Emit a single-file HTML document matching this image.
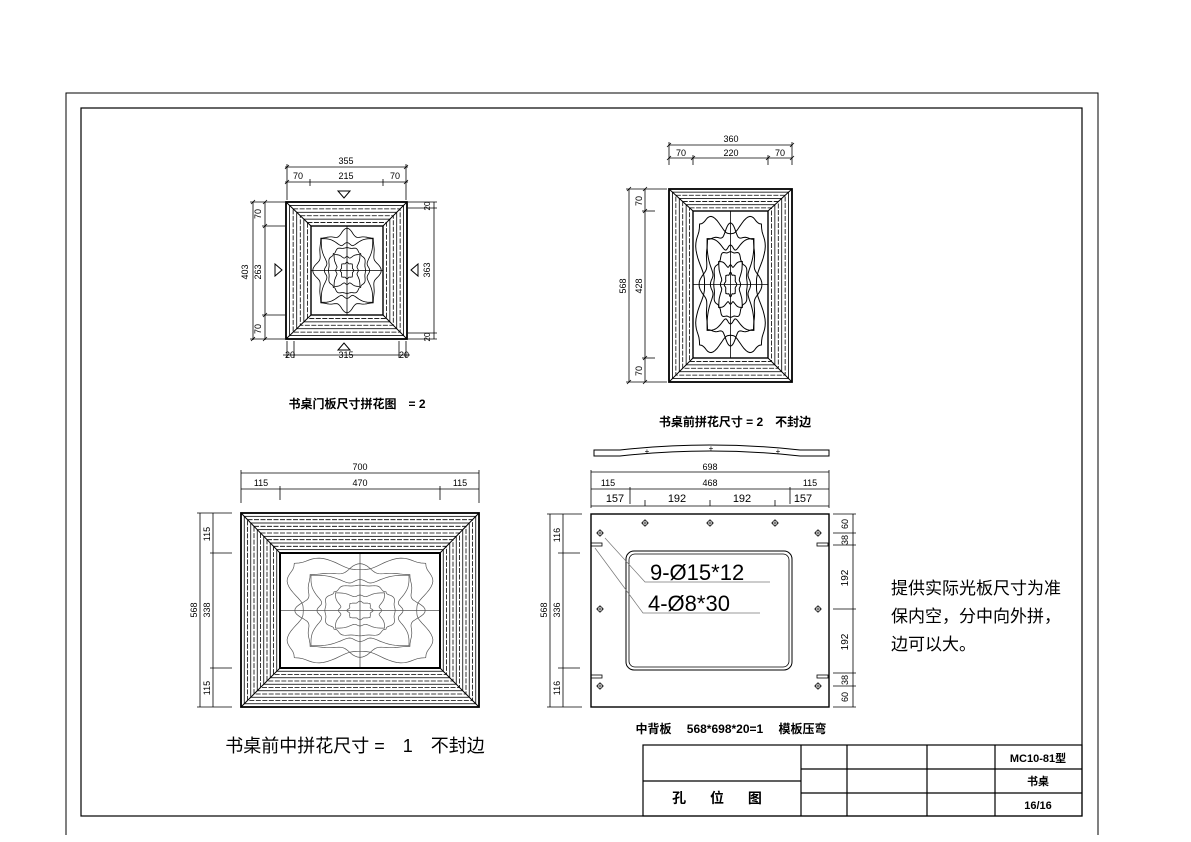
<!DOCTYPE html>
<html><head><meta charset="utf-8"><style>
html,body{margin:0;padding:0;background:#fff;}
svg{display:block;}
text{font-family:"Liberation Sans","Noto Sans CJK SC",sans-serif;fill:#000;}
.cj{font-family:"Liberation Sans","Noto Sans CJK SC",sans-serif;font-weight:bold;}
</style></head><body>
<svg id="s" width="1191" height="842" viewBox="0 0 1191 842" xmlns="http://www.w3.org/2000/svg" stroke="#000" fill="none" stroke-width="1">
<path d="M66,835 V93 H1098 V835" stroke-width="1"/>
<rect x="81" y="108" width="1001" height="708" stroke-width="1.2"/>
<g stroke-width="1.2">
<rect x="643" y="745" width="439" height="71"/>
<line x1="643" y1="781" x2="801" y2="781"/>
<line x1="801" y1="745" x2="801" y2="816"/>
<line x1="847" y1="745" x2="847" y2="816"/>
<line x1="927" y1="745" x2="927" y2="816"/>
<line x1="995" y1="745" x2="995" y2="816"/>
<line x1="801" y1="769" x2="1082" y2="769"/>
<line x1="801" y1="793" x2="1082" y2="793"/>
</g>
<g stroke="none">
<text x="722" y="803" font-size="14" text-anchor="middle" class="cj" letter-spacing="10">孔 位 图</text>
<text x="1038" y="762" font-size="11" text-anchor="middle" class="cj">MC10-81型</text>
<text x="1038" y="785" font-size="11" text-anchor="middle" class="cj">书桌</text>
<text x="1038" y="809" font-size="11" text-anchor="middle" class="cj">16/16</text>
<text x="357" y="408" font-size="12" text-anchor="middle" class="cj">书桌门板尺寸拼花图　= 2</text>
<text x="735" y="426" font-size="12" text-anchor="middle" class="cj">书桌前拼花尺寸 = 2　不封边</text>
<text x="355" y="752" font-size="18" text-anchor="middle">书桌前中拼花尺寸 =　1　不封边</text>
<text x="731" y="733" font-size="12" text-anchor="middle" class="cj">中背板　 568*698*20=1　 模板压弯</text>
<text x="891" y="594" font-size="17">提供实际光板尺寸为准</text>
<text x="891" y="622" font-size="17">保内空，分中向外拼，</text>
<text x="891" y="650" font-size="17">边可以大。</text>
</g>
<g id="g"></g>
</svg>
<script>
const g=document.getElementById('g');
function el(t,a,txt){const e=document.createElementNS('http://www.w3.org/2000/svg',t);for(const k in a)e.setAttribute(k,a[k]);if(txt!==undefined)e.textContent=txt;g.appendChild(e);return e;}
function L(x1,y1,x2,y2,w,c){el('line',{x1,y1,x2,y2,'stroke-width':w||0.8,stroke:c||'#000'});}
function T(x,y,s,sz,rot,anchor,col){const a={x,y,'font-size':sz||9,'text-anchor':anchor||'middle',stroke:'none'};if(col)a.fill=col;if(rot)a.transform=`rotate(-90 ${x} ${y})`;el('text',a,s);}
function frame(o,i,n,dash){
  el('rect',{x:o[0],y:o[1],width:o[2]-o[0],height:o[3]-o[1],'stroke-width':1.8});
  el('rect',{x:i[0],y:i[1],width:i[2]-i[0],height:i[3]-i[1],'stroke-width':1.4});
  for(let k=1;k<n;k++){const t=k/n;
    const r=[o[0]+(i[0]-o[0])*t,o[1]+(i[1]-o[1])*t,o[2]+(i[2]-o[2])*t,o[3]+(i[3]-o[3])*t];
    const a={x:r[0],y:r[1],width:r[2]-r[0],height:r[3]-r[1],'stroke-width':0.8};
    if(dash&&k%2==0)a['stroke-dasharray']='5,1.5';
    el('rect',a);}
  L(o[0],o[1],i[0],i[1],1);L(o[2],o[1],i[2],i[1],1);L(o[0],o[3],i[0],i[3],1);L(o[2],o[3],i[2],i[3],1);
}
function wavy(i,n,amp,col,w){
  const cx=(i[0]+i[2])/2,cy=(i[1]+i[3])/2,hw=(i[2]-i[0])/2,hh=(i[3]-i[1])/2;
  for(let k=1;k<=n;k++){const s=k/(n+1)*0.95;let d='';
    const sg=(k%2?1:-1);
    for(let j=0;j<=160;j++){const th=j/160*Math.PI*2;
      const c=Math.cos(th),sn=Math.sin(th);
      const m=Math.max(Math.abs(c),Math.abs(sn));
      let rx=c/m*hw*s,ry=sn/m*hh*s;
      const f=1+amp*0.35*sg*Math.cos(4*th)+amp*0.2*Math.cos(8*th+0)*(k%3?1:-1)+amp*0.12*Math.cos(12*th);
      rx*=f;ry*=f;
      rx=Math.max(-hw*0.98,Math.min(hw*0.98,rx));ry=Math.max(-hh*0.98,Math.min(hh*0.98,ry));
      d+=(j?'L':'M')+(cx+rx).toFixed(1)+','+(cy+ry).toFixed(1);}
    el('path',{d,'stroke-width':w||0.8,stroke:col||'#000'});}
  L(cx,i[1],cx,i[3],0.8,col);L(i[0],cy,i[2],cy,0.8,col);
}
function tick(x,y){L(x-2,y+2,x+2,y-2,0.8);}
function hdim(x1,x2,y){L(x1-2,y,x2+2,y,0.8);tick(x1,y);tick(x2,y);}
// Drawing 1
frame([286,202,407,339],[311,226,383,315],7,true);
wavy([311,226,383,315],5,0.3);
hdim(287,406,167);T(346,164,'355',9);
hdim(287,406,182);L(310,179,310,186);L(383,179,383,186);
T(298,179,'70',9);T(346,179,'215',9);T(395,179,'70',9);
L(287,164,287,200);L(406,164,406,200);
el('path',{d:'M338,191 L350,191 L344,198 Z'});
el('path',{d:'M338,350 L350,350 L344,343 Z'});
el('path',{d:'M275,264 L275,276 L282,270 Z'});
el('path',{d:'M418,264 L418,276 L411,270 Z'});
L(253,202,253,340);L(265,202,265,340);L(250,202,285,202);L(250,339,285,339);L(262,226,285,226);L(262,315,285,315);
tick(253,202);tick(253,339);tick(265,202);tick(265,226);tick(265,315);tick(265,339);
T(248,272,'403',9,1);T(261,272,'263',9,1);T(261,214,'70',9,1);T(261,329,'70',9,1);
L(434,202,434,339);L(408,202,437,202);L(408,339,437,339);L(408,208,437,208);L(408,333,437,333);
T(430,270,'363',9,1);T(430,206,'20',8,1);T(430,337,'20',8,1);
L(287,341,287,358);L(406,341,406,358);L(294,341,294,358);L(399,341,399,358);L(283,355,410,355);
T(290,358,'20',9);T(346,358,'315',9);T(404,358,'20',9);
// Drawing 2
frame([669,189,792,382],[693,211,768,358],7,true);
wavy([693,211,768,358],6,0.35,'#000',1);
L(669,145,792,145);L(669,158,792,158);L(669,142,669,165);L(792,142,792,165);L(693,155,693,165);L(768,155,768,165);
tick(669,145);tick(792,145);tick(669,158);tick(693,158);tick(768,158);tick(792,158);
T(731,142,'360',9);T(681,156,'70',9);T(731,156,'220',9);T(780,156,'70',9);
L(629,189,629,382);L(645,189,645,382);L(626,189,667,189);L(626,382,667,382);L(642,211,655,211);L(642,358,655,358);
tick(629,189);tick(629,382);tick(645,189);tick(645,211);tick(645,358);tick(645,382);
T(626,286,'568',9,1);T(642,286,'428',9,1);T(642,201,'70',9,1);T(642,371,'70',9,1);
// Drawing 3
frame([241,513,479,707],[280,553,440,668],12,true);
wavy([280,553,440,668],6,0.3,'#555',0.7);
el('rect',{x:280,y:553,width:160,height:115,'stroke-width':2});
L(241,473,479,473);L(241,489,479,489);L(241,470,241,503);L(479,470,479,503);L(280,486,280,500);L(440,486,440,500);
T(360,470,'700',9,0,'middle','#555');T(261,486,'115',9,0,'middle','#555');T(360,486,'470',9,0,'middle','#555');T(460,486,'115',9,0,'middle','#555');
L(200,513,200,707);L(213,513,213,707);L(197,513,232,513);L(197,707,232,707);L(210,553,232,553);L(210,668,232,668);
T(197,610,'568',9,1,'middle','#555');T(210,610,'338',9,1,'middle','#555');T(210,534,'115',9,1,'middle','#555');T(210,688,'115',9,1,'middle','#555');
// Drawing 4
el('path',{d:'M594,450 H620 Q710,440 800,450 H829 V456 H800 Q710,446 620,456 H594 Z','stroke-width':1});
T(647,454,'+',8);T(711,451,'+',8);T(778,454,'+',8);
L(591,472,829,472);L(591,489,829,489);L(591,506,829,506);L(591,470,591,508);L(829,470,829,508);
L(630,487,630,504);L(790,487,790,504);L(645,500,645,506);L(710,500,710,506);L(775,500,775,506);
T(710,470,'698',9,0,'middle','#555');T(608,486,'115',9,0,'middle','#555');T(710,486,'468',9,0,'middle','#555');T(810,486,'115',9,0,'middle','#555');
T(615,502,'157',11,0,'middle','#555');T(677,502,'192',11,0,'middle','#555');T(742,502,'192',11,0,'middle','#555');T(803,502,'157',11,0,'middle','#555');
el('rect',{x:591,y:514,width:238,height:193,'stroke-width':1.4});
el('rect',{x:626,y:551,width:166,height:119,rx:8,'stroke-width':1});
el('rect',{x:629,y:554,width:160,height:113,rx:6,'stroke-width':0.8});
[[645,523],[710,523],[775,523],[600,533],[818,533],[600,609],[818,609],[600,686],[818,686]].forEach(p=>{el('circle',{cx:p[0],cy:p[1],r:2.5,'stroke-width':0.8});L(p[0]-4,p[1],p[0]+4,p[1],0.6);L(p[0],p[1]-4,p[0],p[1]+4,0.6);});
[[591,543],[817,543],[591,675],[817,675]].forEach(p=>el('rect',{x:p[0],y:p[1],width:11,height:3,'stroke-width':0.8}));
el('path',{d:'M605,538 L645,582 H770','stroke':'#777','stroke-width':0.7});
el('path',{d:'M595,548 L643,613 H760','stroke':'#777','stroke-width':0.7});
T(650,580,'9-Ø15*12',22,0,'start','#888');
T(648,611,'4-Ø8*30',22,0,'start','#888');
L(550,514,550,707);L(563,514,563,707);L(547,514,582,514);L(547,707,582,707);L(558,553,580,553);L(558,668,580,668);
T(547,610,'568',9,1,'middle','#555');T(560,610,'336',9,1,'middle','#555');T(560,535,'116',9,1,'middle','#555');T(560,688,'116',9,1,'middle','#555');
L(853,514,853,707);L(833,514,856,514);L(833,707,856,707);L(833,533,856,533);L(833,545,856,545);L(833,609,856,609);L(833,673,856,673);L(833,686,856,686);
T(848,578,'192',10,1,'middle','#555');T(848,642,'192',10,1,'middle','#555');T(848,524,'60',9,1,'middle','#555');T(848,540,'38',9,1,'middle','#555');T(848,680,'38',9,1,'middle','#555');T(848,697,'60',9,1,'middle','#555');
</script>
</body></html>
